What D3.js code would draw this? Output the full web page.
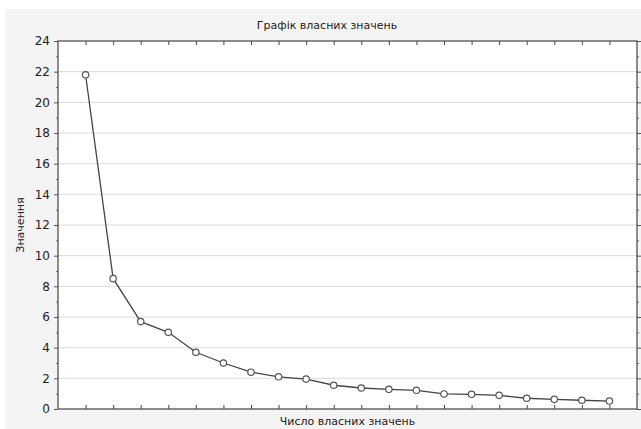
<!DOCTYPE html>
<html>
<head>
<meta charset="utf-8">
<script src="https://cdn.jsdelivr.net/npm/d3@7"></script>
<style>
  body { margin: 0; background: #fff; }
  text { font-family: "DejaVu Sans", Verdana, sans-serif; fill: #222; }
</style>
</head>
<body>
<div id="chart"></div>
<script>
var svgWidth = 641;
var svgHeight = 429;

var margin = { top: 41, right: 4, bottom: 20, left: 58 };

var width = svgWidth - margin.left - margin.right;
var height = svgHeight - margin.top - margin.bottom;

// eigenvalue numbers and values
var numbers = [1, 2, 3, 4, 5, 6, 7, 8, 9, 10, 11, 12, 13, 14, 15, 16, 17, 18, 19, 20];
var eigenvalues = [21.8, 8.5, 5.7, 5.0, 3.7, 3.0, 2.4, 2.1, 1.95, 1.55, 1.37, 1.28, 1.22, 0.98, 0.96, 0.89, 0.7, 0.63, 0.57, 0.52];
var yTicks = [0, 2, 4, 6, 8, 10, 12, 14, 16, 18, 20, 22, 24];
var yMinorTicks = [1, 3, 5, 7, 9, 11, 13, 15, 17, 19, 21, 23];

var svg = d3.select("#chart")
  .append("svg")
  .attr("width", svgWidth)
  .attr("height", svgHeight);

// light grey panel behind the chart
svg.append("rect")
  .attr("x", 5).attr("y", 9)
  .attr("width", svgWidth - 5).attr("height", svgHeight - 9)
  .attr("fill", "#f4f4f4");

var chartGroup = svg.append("g")
  .attr("transform", `translate(${margin.left}, ${margin.top})`);

var xScale = d3.scaleLinear().domain([0, 21]).range([0, width]);
var yScale = d3.scaleLinear().domain([0, 24]).range([height, 0]);

chartGroup.append("rect")
  .attr("width", width).attr("height", height)
  .attr("fill", "#fff");

// gridlines
chartGroup.selectAll(".grid")
  .data(yTicks.slice(1, -1))
  .enter().append("line")
  .attr("x1", 0).attr("x2", width)
  .attr("y1", d => yScale(d)).attr("y2", d => yScale(d))
  .attr("stroke", "#dcdcdc")
  .attr("stroke-width", 1);

// left axis
var leftAxis = d3.axisLeft(yScale).tickValues(yTicks).tickSize(4).tickPadding(4);
var leftG = chartGroup.append("g").call(leftAxis);
leftG.select(".domain").remove();
leftG.selectAll("text").attr("font-size", 12).attr("fill", "#333");
leftG.selectAll("line").attr("stroke", "#555");
chartGroup.append("g")
  .call(d3.axisLeft(yScale).tickValues(yMinorTicks).tickSize(2).tickFormat(""))
  .call(g => g.select(".domain").remove())
  .selectAll("line").attr("stroke", "#777");

// right axis
var rightG = chartGroup.append("g")
  .attr("transform", `translate(${width}, 0)`)
  .call(d3.axisRight(yScale).tickValues(yTicks).tickSize(4).tickFormat(""));
rightG.select(".domain").remove();
rightG.selectAll("line").attr("stroke", "#555");
chartGroup.append("g")
  .attr("transform", `translate(${width}, 0)`)
  .call(d3.axisRight(yScale).tickValues(yMinorTicks).tickSize(2).tickFormat(""))
  .call(g => g.select(".domain").remove())
  .selectAll("line").attr("stroke", "#777");

// bottom and top ticks pointing inward
var bottomG = chartGroup.append("g")
  .attr("transform", `translate(0, ${height})`)
  .call(d3.axisBottom(xScale).tickValues(numbers).tickSize(-4).tickFormat(""));
bottomG.select(".domain").remove();
bottomG.selectAll("line").attr("stroke", "#444");

var topG = chartGroup.append("g")
  .call(d3.axisTop(xScale).tickValues(numbers).tickSize(-4).tickFormat(""));
topG.select(".domain").remove();
topG.selectAll("line").attr("stroke", "#444");

// frame
chartGroup.append("rect")
  .attr("width", width).attr("height", height)
  .attr("fill", "none")
  .attr("stroke", "#444")
  .attr("stroke-width", 1.2);

// scree line
var line = d3.line()
  .x((d, i) => xScale(numbers[i]))
  .y(d => yScale(d));

chartGroup.append("path")
  .datum(eigenvalues)
  .attr("d", line)
  .attr("fill", "none")
  .attr("stroke", "#444")
  .attr("stroke-width", 1.3);

chartGroup.selectAll("circle")
  .data(eigenvalues)
  .enter()
  .append("circle")
  .attr("cx", (d, i) => xScale(numbers[i]))
  .attr("cy", d => yScale(d))
  .attr("r", 3.2)
  .attr("fill", "#fff")
  .attr("stroke", "#555")
  .attr("stroke-width", 1.2);

// titles
svg.append("text")
  .attr("x", 327).attr("y", 29)
  .attr("text-anchor", "middle")
  .attr("font-size", 11)
  .text("Графік власних значень");

svg.append("text")
  .attr("x", margin.left + width / 2).attr("y", 425)
  .attr("text-anchor", "middle")
  .attr("font-size", 11)
  .text("Число власних значень");

svg.append("text")
  .attr("transform", `translate(24, ${margin.top + height / 2}) rotate(-90)`)
  .attr("text-anchor", "middle")
  .attr("font-size", 11)
  .text("Значення");
</script>
</body>
</html>
